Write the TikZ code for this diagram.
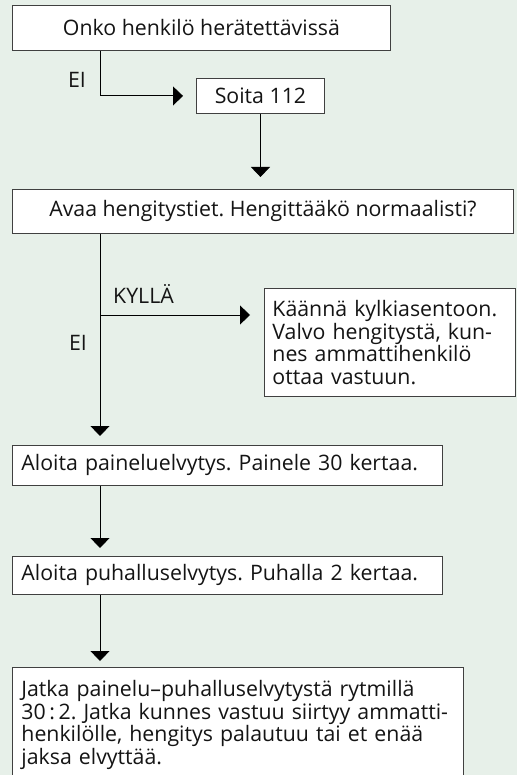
\documentclass[tikz,border=0pt]{standalone}
\usepackage{fontspec}
\setmainfont{Open Sans}
\usetikzlibrary{arrows.meta}
\definecolor{panel}{RGB}{231,240,233}
\definecolor{ink}{RGB}{20,20,20}
\frenchspacing
\begin{document}
\begin{tikzpicture}[x=1pt, y=-1pt, >={Triangle[width=19pt,length=10pt]},
  font=\fontsize{21.3}{22.6}\selectfont, text=ink,
  box/.style={draw=black!75, line width=0.9pt, fill=white, anchor=north west, inner sep=0pt, align=center},
  textbox/.style={box, align=left, inner xsep=9pt},
  lbl/.style={inner sep=0pt},
  flow/.style={->, line width=0.9pt, draw=black}]
  \useasboundingbox (0,0) rectangle (517,775);
  \clip (0,0) rectangle (517,775);
  \fill[panel] (0,0) rectangle (517,775);

  \coordinate (spine) at (100,0);
  \coordinate (yes) at (100,315);

  \node[box, minimum width=378pt, minimum height=45pt] (wake) at (12,5) {Onko henkilö herätettävissä};
  \node[box, minimum width=128pt, minimum height=35pt] (call) at (196,78) {Soita 112};
  \node[box, minimum width=501pt, minimum height=44pt] (airway) at (12,189) {Avaa hengitystiet. Hengittääkö normaalisti?};
  \node[textbox, inner xsep=8pt, text width=235pt, minimum height=108pt] (side) at (264,288) {Käännä kylkiasentoon.\\Valvo hengitystä, kun-\\nes ammattihenkilö\\ottaa vastuun.};
  \node[textbox, text width=412pt, minimum height=40pt] (press) at (12,445) {Aloita paineluelvytys. Painele 30 kertaa.};
  \node[textbox, text width=412pt, minimum height=38pt] (blow) at (12,556) {Aloita puhalluselvytys. Puhalla 2 kertaa.};
  \node[textbox, text width=433pt, inner ysep=13pt] (cont) at (12,667) {Jatka painelu–puhalluselvytystä rytmillä\\30\,:\,2. Jatka kunnes vastuu siirtyy ammatti-\\henkilölle, hengitys palautuu tai et enää\\jaksa elvyttää.\\\mbox{}\\\mbox{}};

  \node[lbl, anchor=base east] (no1) at (86,88) {EI};
  \node[lbl, anchor=base west] (yes1) at (113,303) {KYLLÄ};
  \node[lbl, anchor=base east] (no2) at (87,350) {EI};

  \draw[flow, shorten >=13pt] (wake.south -| spine) |- (call.west);
  \draw[flow, shorten >=12pt] (call.south) -- (call.south |- airway.north);
  \draw[flow, shorten >=9pt] (airway.south -| spine) -- (press.north -| spine);
  \draw[flow, shorten >=14pt] (yes) -- (yes -| side.west);
  \draw[flow, shorten >=8pt] (press.south -| spine) -- (blow.north -| spine);
  \draw[flow, shorten >=6pt] (blow.south -| spine) -- (cont.north -| spine);
\end{tikzpicture}
\end{document}
